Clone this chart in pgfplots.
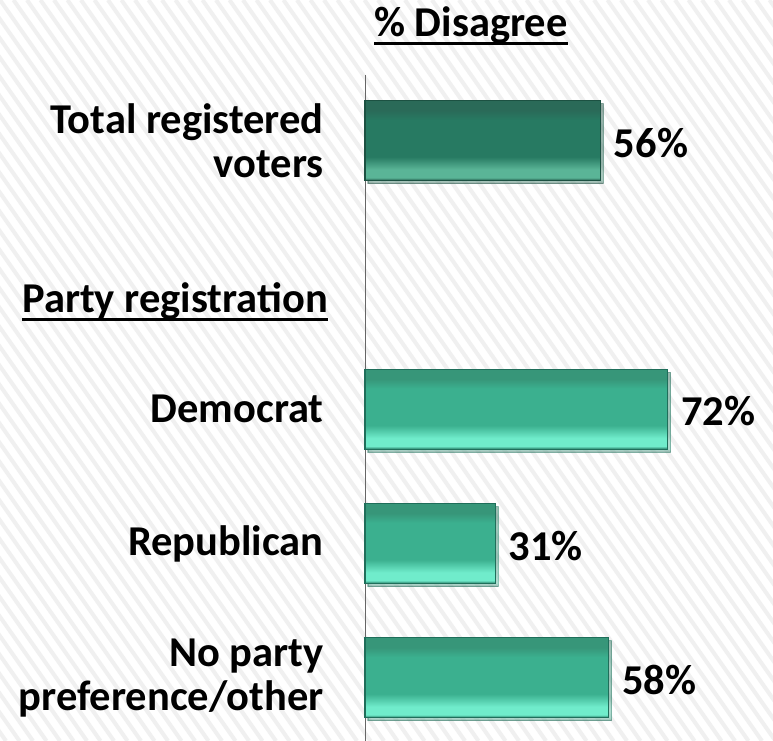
\documentclass[border=0pt]{standalone}
\usepackage{pgfplots}
\pgfplotsset{compat=1.18}
\usepackage{fontspec}
\setmainfont{Carlito}
\usetikzlibrary{shadows}
\definecolor{dkTop}{HTML}{2A6A58}
\definecolor{dkMid}{HTML}{277A62}
\definecolor{dkBot}{HTML}{5AB597}
\definecolor{dkEdge}{HTML}{1C5142}
\definecolor{ltTop}{HTML}{379679}
\definecolor{ltMid}{HTML}{3BB08F}
\definecolor{ltBot}{HTML}{70ECCB}
\definecolor{ltEdge}{HTML}{1F6E5A}
\definecolor{hatch}{HTML}{F0F0F0}
\pgfdeclareverticalshading{ltbar}{100bp}{color(0bp)=(ltEdge); color(25bp)=(ltEdge); color(27bp)=(ltBot); color(32bp)=(ltBot); color(40bp)=(ltMid); color(63bp)=(ltMid); color(69bp)=(ltTop); color(75bp)=(ltTop); color(100bp)=(ltTop)}
\pgfdeclareverticalshading{dkbar}{100bp}{color(0bp)=(dkEdge); color(25bp)=(dkEdge); color(27bp)=(dkBot); color(32bp)=(dkBot); color(40bp)=(dkMid); color(63bp)=(dkMid); color(69bp)=(dkTop); color(75bp)=(dkTop); color(100bp)=(dkTop)}
\newcommand{\bigfont}{\bfseries\fontsize{42.5bp}{44bp}\selectfont}
\begin{document}
\begin{tikzpicture}[x=1bp,y=1bp]
\useasboundingbox (0,0) rectangle (773,741);
\fill[white] (0,0) rectangle (773,741);
\begin{scope}
\clip (0,0) rectangle (773,741);
\foreach \i in {-45,...,60} {
  \draw[hatch, line width=4bp] ({\i*13.5},741) -- ({\i*13.5+519},0);
}
\end{scope}
\begin{axis}[
  at={(365bp,0bp)}, anchor=south west,
  scale only axis, width=408bp, height=666bp,
  xmin=0, xmax=97.1, ymin=-0.49, ymax=4.47,
  y dir=reverse,
  xbar, bar width=80bp, bar shift=0pt,
  axis x line=none,
  axis y line*=left,
  y axis line style={draw=gray!80!black, line width=1bp, -},
  ytick={0,2,3,4},
  yticklabels={{Total registered\\voters},{Democrat},{Republican},{No party\\preference/other}},
  ytick style={draw=none},
  yticklabel style={align=right, font=\bigfont, inner sep=0pt, xshift=-37bp},
  /pgf/number format/assume math mode=true,
  nodes near coords={\pgfmathprintnumber{\pgfplotspointmeta}\%},
  nodes near coords style={font=\bigfont, anchor=west, inner sep=0pt, xshift=13bp, yshift=-2bp, text=black},
  clip=false,
  lt/.style={draw=ltEdge, line width=1.2bp, shading=ltbar,
    drop shadow={shadow xshift=3bp, shadow yshift=-3bp, opacity=0.35}},
]
\addplot[draw=dkEdge, line width=1.2bp, shading=dkbar,
  drop shadow={shadow xshift=3bp, shadow yshift=-3bp, opacity=0.35}]
  coordinates {(56,0)};
\addplot[lt] coordinates {(72,2)};
\addplot[lt] coordinates {(31,3)};
\addplot[lt] coordinates {(58,4)};
\end{axis}
\node[font=\bigfont, anchor=base, inner sep=0pt] (dis) at (471,704) {\% Disagree};
\draw[line width=3bp] (dis.base west |- 0,697) -- (dis.base east |- 0,697);
\node[font=\bigfont, anchor=base east, inner sep=0pt] (pr) at (328,428) {Party registration};
\draw[line width=3bp] (pr.base west |- 0,421) -- (pr.base east |- 0,421);
\end{tikzpicture}
\end{document}
